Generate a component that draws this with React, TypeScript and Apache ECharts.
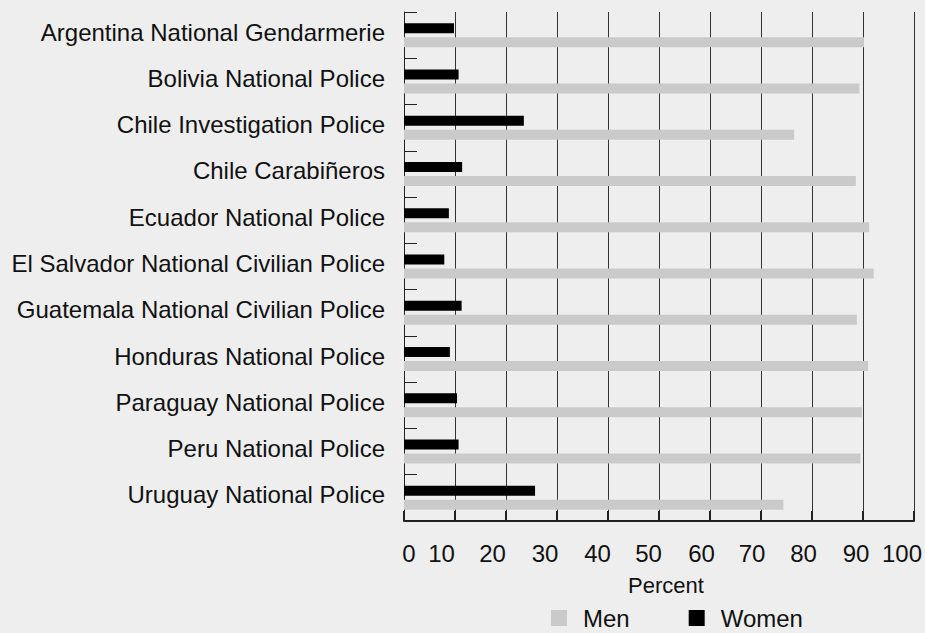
import React, { useEffect, useRef } from "react";
import * as echarts from "echarts";

const categories = [
  "Argentina National Gendarmerie",
  "Bolivia National Police",
  "Chile Investigation Police",
  "Chile Carabiñeros",
  "Ecuador National Police",
  "El Salvador National Civilian Police",
  "Guatemala National Civilian Police",
  "Honduras National Police",
  "Paraguay National Police",
  "Peru National Police",
  "Uruguay National Police",
];

const women = [9.8, 10.7, 23.5, 11.4, 8.8, 7.9, 11.3, 9.0, 10.4, 10.7, 25.7];
const men = [90.2, 89.3, 76.5, 88.6, 91.2, 92.1, 88.8, 91.0, 89.8, 89.5, 74.4];

const xTicks = [0, 10, 20, 30, 40, 50, 60, 70, 80, 90, 100];

const FONT = "'Liberation Sans', Arial, Helvetica, sans-serif";

// label nudges (px padding) to match the reference's label placement
const labelPad: Record<number, number[]> = {
  0: [0, 0, 0, 10],
  10: [0, 27, 0, 0],
  20: [0, 27, 0, 0],
  30: [0, 24, 0, 0],
  40: [0, 21, 0, 0],
  50: [0, 21, 0, 0],
  60: [0, 17, 0, 0],
  70: [0, 18, 0, 0],
  80: [0, 17, 0, 0],
  90: [0, 14, 0, 0],
  100: [0, 24, 0, 0],
};

export default function App() {
  const ref = useRef<HTMLDivElement>(null);

  useEffect(() => {
    if (!ref.current) return;
    const chart = echarts.init(ref.current, undefined, { renderer: "svg" });

    const rich: Record<string, any> = {};
    xTicks.forEach((t) => {
      rich["t" + t] = {
        fontSize: 24,
        fontFamily: FONT,
        color: "#111",
        padding: labelPad[t],
      };
    });

    chart.setOption({
      animation: false,
      backgroundColor: "#eeeeee",
      textStyle: { fontFamily: FONT },
      grid: { left: 404, right: 8, top: 12, bottom: 112, containLabel: false },
      legend: {
        data: ["Men", "Women"],
        left: 551,
        top: 606,
        padding: 0,
        itemWidth: 16,
        itemHeight: 16,
        itemGap: 59,
        icon: "rect",
        textStyle: {
          fontSize: 24,
          fontFamily: FONT,
          color: "#111",
          padding: [0, 0, 0, 11],
        },
      },
      xAxis: {
        type: "value",
        min: 0,
        max: 100,
        interval: 10,
        name: "Percent",
        nameLocation: "middle",
        nameGap: 53,
        nameTextStyle: {
          fontSize: 22,
          fontFamily: FONT,
          color: "#111",
          padding: [0, 0, 0, 14],
        },
        axisLine: { show: true, lineStyle: { color: "#222", width: 2 } },
        axisTick: { show: true, inside: true, length: 10, lineStyle: { color: "#222", width: 2 } },
        splitLine: { show: true, lineStyle: { color: "#333", width: 1 } },
        axisLabel: {
          margin: 20,
          fontSize: 24,
          fontFamily: FONT,
          color: "#111",
          formatter: (v: number) => `{t${v}|${v}}`,
          rich,
        },
      },
      yAxis: {
        type: "category",
        data: categories,
        inverse: true,
        axisLine: { show: true, lineStyle: { color: "#222", width: 1 } },
        axisTick: { show: true, inside: true, length: 13, lineStyle: { color: "#222", width: 1 } },
        axisLabel: {
          margin: 19,
          fontSize: 24,
          fontFamily: FONT,
          color: "#111",
          formatter: (v: string) => `{c|${v}}`,
          rich: {
            c: {
              fontSize: 24,
              fontFamily: FONT,
              color: "#111",
              padding: [0, 0, 6, 0],
            },
          },
        },
        splitLine: { show: false },
      },
      series: [
        {
          name: "Women",
          type: "bar",
          data: women,
          barWidth: 10,
          barGap: "40%",
          itemStyle: { color: "#000000" },
        },
        {
          name: "Men",
          type: "bar",
          data: men,
          barWidth: 10,
          barGap: "40%",
          itemStyle: { color: "#c9cac9" },
        },
      ],
    });

    return () => chart.dispose();
  }, []);

  return (
    <div
      ref={ref}
      style={{ position: "fixed", left: 0, top: 0, width: 925, height: 633 }}
    />
  );
}
